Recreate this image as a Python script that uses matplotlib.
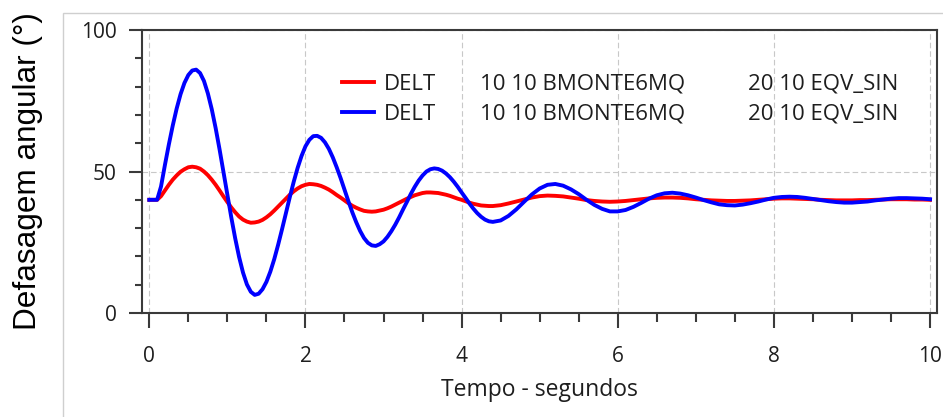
# Defasagem angular - DELT, two simulation cases
import numpy as np
import matplotlib.pyplot as plt
from matplotlib.patches import Rectangle
from matplotlib.ticker import MultipleLocator

# ----------------------------------------------------------------------------------------------------------------------
#  DATA  (every 0.05 s up to 4.35 s, then every 0.1 s)
# ----------------------------------------------------------------------------------------------------------------------
n_fine, dt_fine = 88, 0.05
n_coarse, dt_coarse = 57, 0.1

delt_red = [40.0, 40.0, 40.0, 41.3, 43.3, 45.3, 47.1, 48.6, 49.9, 50.8,
            51.5, 51.7, 51.5, 51.0, 50.0, 48.7, 47.1, 45.3, 43.3, 41.2,
            39.2, 37.3, 35.6, 34.1, 33.0, 32.3, 31.9, 32.0, 32.3, 32.9,
            33.8, 34.9, 36.2, 37.6, 39.0, 40.4, 41.8, 43.0, 44.0, 44.8,
            45.3, 45.6, 45.5, 45.3, 44.9, 44.3, 43.6, 42.7, 41.7, 40.8,
            39.8, 38.8, 37.9, 37.2, 36.6, 36.1, 35.9, 35.8, 35.9, 36.2,
            36.5, 37.0, 37.6, 38.3, 39.0, 39.7, 40.4, 41.0, 41.6, 42.0,
            42.4, 42.6, 42.6, 42.5, 42.4, 42.1, 41.8, 41.4, 40.9, 40.4,
            40.0, 39.5, 39.0, 38.6, 38.3, 38.0, 37.9, 37.8,
            # 4.4 s onwards
            37.8, 38.1, 38.7, 39.4, 40.1, 40.8, 41.3, 41.5, 41.4, 41.2,
            40.8, 40.4, 39.9, 39.6, 39.4, 39.3, 39.4, 39.6, 39.9, 40.2,
            40.5, 40.7, 40.8, 40.8, 40.7, 40.5, 40.2, 40.0, 39.8, 39.7,
            39.6, 39.6, 39.7, 39.8, 40.0, 40.2, 40.4, 40.5, 40.5, 40.4,
            40.3, 40.2, 40.0, 39.9, 39.8, 39.8, 39.8, 39.9, 39.9, 40.0,
            40.1, 40.2, 40.2, 40.2, 40.1, 40.1, 40.0]

delt_blue = [40.0, 40.0, 40.0, 44.7, 52.3, 59.5, 66.2, 72.2, 77.3, 81.3,
             84.1, 85.7, 86.0, 84.8, 82.0, 77.6, 72.0, 65.3, 57.8, 49.8,
             41.7, 33.8, 26.4, 19.8, 14.3, 10.1, 7.5, 6.4, 6.8, 8.4,
             11.0, 14.6, 19.0, 24.1, 29.6, 35.3, 41.0, 46.4, 51.3, 55.5,
             58.9, 61.2, 62.5, 62.6, 61.9, 60.3, 58.0, 55.0, 51.5, 47.7,
             43.6, 39.5, 35.6, 32.1, 29.0, 26.5, 24.8, 23.9, 23.7, 24.3,
             25.3, 26.9, 28.9, 31.2, 33.8, 36.6, 39.3, 42.1, 44.6, 46.8,
             48.6, 50.0, 50.8, 51.1, 50.9, 50.3, 49.3, 48.0, 46.4, 44.6,
             42.6, 40.7, 38.7, 36.9, 35.3, 34.0, 33.0, 32.4,
             # 4.4 s onwards
             32.2, 32.7, 34.3, 36.6, 39.3, 41.9, 44.0, 45.3, 45.6, 45.0,
             43.7, 42.0, 40.0, 38.2, 36.8, 35.9, 35.9, 36.4, 37.5, 38.9,
             40.4, 41.6, 42.3, 42.5, 42.2, 41.6, 40.8, 39.9, 39.1, 38.4,
             38.1, 38.0, 38.3, 38.8, 39.4, 40.1, 40.7, 41.0, 41.1, 41.0,
             40.7, 40.3, 39.9, 39.5, 39.2, 39.0, 39.0, 39.2, 39.4, 39.8,
             40.1, 40.4, 40.6, 40.6, 40.5, 40.4, 40.2]

series_names = ["DELT", "DELT"]
col_bus_from = ["10 10 BMONTE6MQ", "10 10 BMONTE6MQ"]
col_bus_to   = ["20 10 EQV_SIN", "20 10 EQV_SIN"]

time = np.concatenate([np.arange(n_fine) * dt_fine,
                       n_fine * dt_fine + np.arange(n_coarse) * dt_coarse])

# ----------------------------------------------------------------------------------------------------------------------
#  PLOT
# ----------------------------------------------------------------------------------------------------------------------
ui_font   = ["Open Sans", "DejaVu Sans"]
txt_color = "#1e1e1e"
spine_col = "#3a3a3a"
line_w    = 2.8

fig = plt.figure(figsize=(9.43, 4.17), dpi=100)
fig.patch.set_facecolor("white")

# light panel border around the chart area
fig.add_artist(Rectangle((63 / 943, -0.1), 1.0, 1.1 - 13 / 417, transform=fig.transFigure,
                         fill=False, edgecolor="#cfcfcf", linewidth=1.0))

ax = fig.add_axes([0.1503, 0.2494, 0.8430, 0.6786])

ax.plot(time, delt_red, color="#ff0000", linewidth=line_w, label=series_names[0])
ax.plot(time, delt_blue, color="#0000ff", linewidth=line_w, label=series_names[1])

ax.set_xlim(-0.097, 10.085)
ax.set_ylim(0, 100)

ax.xaxis.set_major_locator(MultipleLocator(2))
ax.xaxis.set_minor_locator(MultipleLocator(0.5))
ax.yaxis.set_major_locator(MultipleLocator(50))
ax.yaxis.set_minor_locator(MultipleLocator(10))

ax.grid(True, which="major", color="#c8c8c8", linewidth=0.8, linestyle=(0, (5, 2.7)))
ax.set_axisbelow(True)

for side in ["left", "right", "top", "bottom"]:
    ax.spines[side].set_color(spine_col)
    ax.spines[side].set_linewidth(1.5)

ax.tick_params(axis="x", which="major", direction="out", length=10.8, width=1.5, color=spine_col,
               pad=13, labelsize=15, labelcolor=txt_color)
ax.tick_params(axis="x", which="minor", direction="out", length=6.8, width=1.5, color=spine_col)
ax.tick_params(axis="y", which="major", direction="out", length=9.4, width=1.5, color=spine_col,
               pad=8.5, labelsize=15, labelcolor=txt_color)
ax.tick_params(axis="y", which="minor", direction="out", length=5.0, width=1.5, color=spine_col)
for lbl in ax.get_xticklabels() + ax.get_yticklabels():
    lbl.set_family(ui_font)

ax.set_xlabel("Tempo - segundos", fontsize=16.5, family=ui_font, color=txt_color, labelpad=8)
ax.set_ylabel("Defasagem angular (°)", fontsize=22.7, family=["Liberation Sans", "DejaVu Sans"],
              color="black")
ax.yaxis.set_label_coords(-0.124, 0.5)

# legend: line + name, then the two bus columns aligned on each row
leg = ax.legend(loc="center left", bbox_to_anchor=(0.2516, 0.755), frameon=False,
                borderpad=0, borderaxespad=0, handlelength=1.45, handletextpad=0.45,
                labelspacing=0.4, prop={"family": ui_font, "size": 16})
for txt in leg.get_texts():
    txt.set_color(txt_color)
for line in leg.get_lines():
    line.set_linewidth(line_w)

fig.canvas.draw()
to_axes = ax.transAxes.inverted()
for row_text, bus_a, bus_b in zip(leg.get_texts(), col_bus_from, col_bus_to):
    bb = row_text.get_window_extent()
    y_row = to_axes.transform((0, 0.5 * (bb.y0 + bb.y1)))[1]
    ax.text(0.4255, y_row, bus_a, transform=ax.transAxes, ha="left", va="center",
            fontsize=16, family=ui_font, color=txt_color)
    ax.text(0.7626, y_row, bus_b, transform=ax.transAxes, ha="left", va="center",
            fontsize=16, family=ui_font, color=txt_color)

fig.savefig("out.png", dpi=100)
